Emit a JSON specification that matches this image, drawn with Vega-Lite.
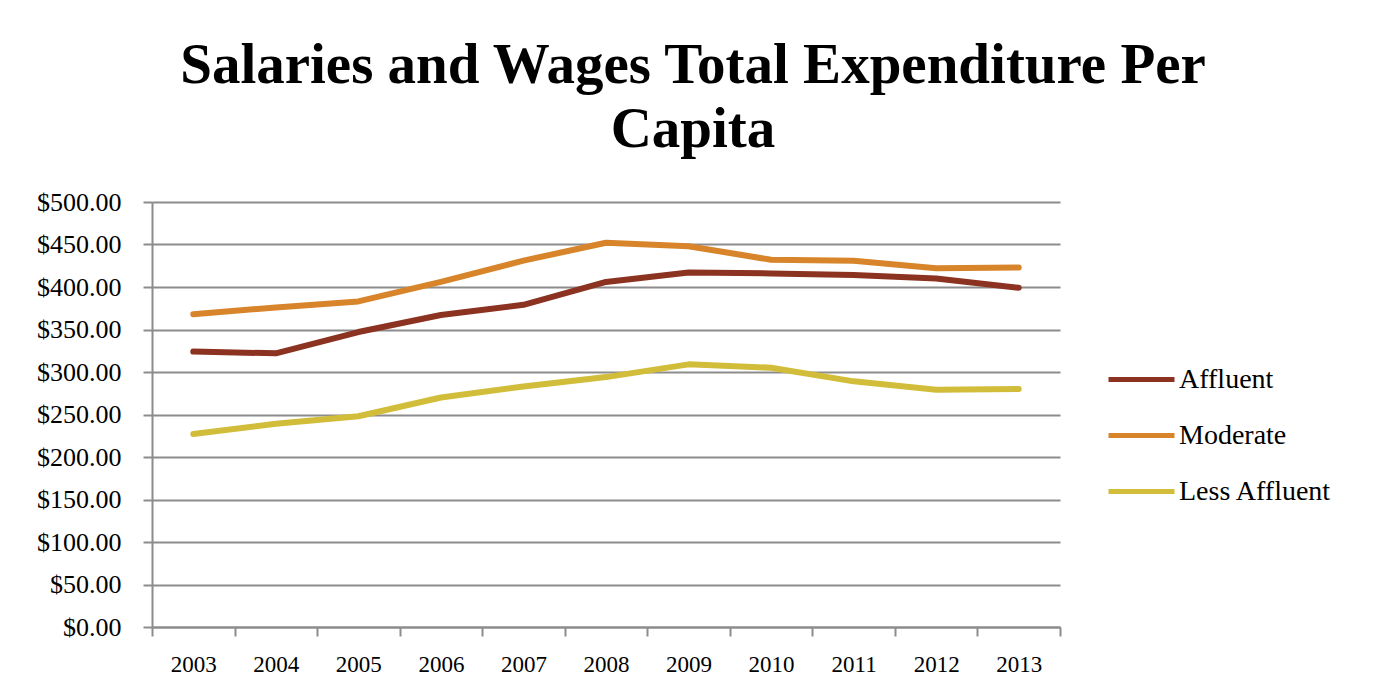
{
  "$schema": "https://vega.github.io/schema/vega-lite/v6.json",
  "autosize": "none",
  "width": 908,
  "height": 425,
  "padding": {"left": 152, "top": 202, "right": 324, "bottom": 71},
  "background": "white",
  "config": {
    "font": "Liberation Serif",
    "view": {"stroke": null}
  },
  "title": {
    "text": ["Salaries and Wages Total Expenditure Per", "Capita"],
    "font": "Liberation Serif",
    "fontSize": 57,
    "fontWeight": "bold",
    "lineHeight": 64,
    "color": "black",
    "anchor": "middle",
    "frame": "group",
    "dx": 87,
    "offset": 30
  },
  "data": {
    "values": [
      {"year": "2003", "group": "Affluent", "value": 324},
      {"year": "2004", "group": "Affluent", "value": 322},
      {"year": "2005", "group": "Affluent", "value": 347},
      {"year": "2006", "group": "Affluent", "value": 367},
      {"year": "2007", "group": "Affluent", "value": 379},
      {"year": "2008", "group": "Affluent", "value": 406},
      {"year": "2009", "group": "Affluent", "value": 417},
      {"year": "2010", "group": "Affluent", "value": 416},
      {"year": "2011", "group": "Affluent", "value": 414},
      {"year": "2012", "group": "Affluent", "value": 410},
      {"year": "2013", "group": "Affluent", "value": 399},
      {"year": "2003", "group": "Moderate", "value": 368},
      {"year": "2004", "group": "Moderate", "value": 376},
      {"year": "2005", "group": "Moderate", "value": 383},
      {"year": "2006", "group": "Moderate", "value": 406},
      {"year": "2007", "group": "Moderate", "value": 431},
      {"year": "2008", "group": "Moderate", "value": 452},
      {"year": "2009", "group": "Moderate", "value": 448},
      {"year": "2010", "group": "Moderate", "value": 432},
      {"year": "2011", "group": "Moderate", "value": 431},
      {"year": "2012", "group": "Moderate", "value": 422},
      {"year": "2013", "group": "Moderate", "value": 423},
      {"year": "2003", "group": "Less Affluent", "value": 227},
      {"year": "2004", "group": "Less Affluent", "value": 239},
      {"year": "2005", "group": "Less Affluent", "value": 248},
      {"year": "2006", "group": "Less Affluent", "value": 270},
      {"year": "2007", "group": "Less Affluent", "value": 283},
      {"year": "2008", "group": "Less Affluent", "value": 294},
      {"year": "2009", "group": "Less Affluent", "value": 309},
      {"year": "2010", "group": "Less Affluent", "value": 305},
      {"year": "2011", "group": "Less Affluent", "value": 289},
      {"year": "2012", "group": "Less Affluent", "value": 279},
      {"year": "2013", "group": "Less Affluent", "value": 280}
    ]
  },
  "mark": {"type": "line", "strokeWidth": 6, "strokeCap": "round", "strokeJoin": "round"},
  "encoding": {
    "x": {
      "field": "year",
      "type": "ordinal",
      "title": null,
      "scale": {"type": "band", "paddingInner": 0, "paddingOuter": 0},
      "axis": {
        "tickBand": "extent",
        "grid": false,
        "labelAngle": 0,
        "labelFont": "Liberation Serif",
        "labelFontSize": 23,
        "labelColor": "black",
        "labelPadding": 17,
        "domainColor": "#8c8c8c",
        "domainWidth": 2,
        "tickColor": "#8c8c8c",
        "tickWidth": 2,
        "tickSize": 9
      }
    },
    "y": {
      "field": "value",
      "type": "quantitative",
      "title": null,
      "scale": {"domain": [0, 500], "nice": false},
      "axis": {
        "values": [0, 50, 100, 150, 200, 250, 300, 350, 400, 450, 500],
        "format": "$,.2f",
        "labelFont": "Liberation Serif",
        "labelFontSize": 26,
        "labelColor": "black",
        "labelPadding": 22,
        "grid": true,
        "gridColor": "#8c8c8c",
        "gridWidth": 2,
        "gridOpacity": 1,
        "domainColor": "#8c8c8c",
        "domainWidth": 2,
        "tickColor": "#8c8c8c",
        "tickWidth": 2,
        "tickSize": 9
      }
    },
    "color": {
      "field": "group",
      "type": "nominal",
      "sort": ["Affluent", "Moderate", "Less Affluent"],
      "scale": {
        "domain": ["Affluent", "Moderate", "Less Affluent"],
        "range": ["#8b3220", "#d8842a", "#d2bd3a"]
      },
      "legend": {
        "title": null,
        "orient": "none",
        "legendX": 965,
        "legendY": 153,
        "symbolType": "M-1.5,0H1.5",
        "symbolSize": 1936,
        "symbolStrokeWidth": 5,
        "labelFont": "Liberation Serif",
        "labelFontSize": 28,
        "labelColor": "black",
        "labelOffset": 13,
        "rowPadding": 17
      }
    }
  }
}
